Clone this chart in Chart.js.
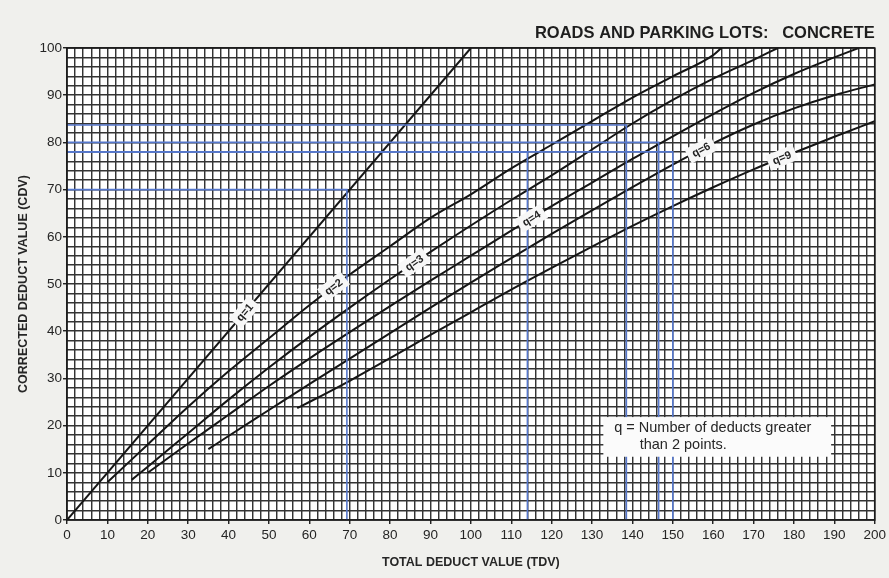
<!DOCTYPE html>
<html>
<head>
<meta charset="utf-8">
<script src="https://cdn.jsdelivr.net/npm/chart.js@4.4.1/dist/chart.umd.min.js"></script>
<style>
  html, body { margin: 0; background: #f0f0ed; }
  canvas { display: block; }
</style>
</head>
<body>
<canvas id="cdv-chart" width="889" height="578"></canvas>
<script>
// ---- data (TDV on x, CDV on y) ----
const q1Tdv = [0, 100];
const q1Cdv = [0, 100];
const q2Tdv = [10, 20, 30, 40, 50, 60, 70, 80, 90, 100, 110, 120, 130, 140, 150, 160, 162];
const q2Cdv = [8, 16, 24, 31.5, 38.5, 45.5, 52, 58, 64, 69, 74.5, 79.5, 84.5, 89.5, 94, 98.5, 100];
const q3Tdv = [16, 20, 30, 40, 50, 60, 70, 80, 90, 100, 110, 120, 130, 140, 150, 160, 170, 176];
const q3Cdv = [8.5, 11.3, 18.4, 25.5, 32.3, 38.8, 45, 51, 56.8, 62.4, 67.8, 73, 78.5, 84, 89, 93.5, 97.5, 100];
const q4Tdv = [20, 30, 40, 50, 60, 70, 80, 90, 100, 110, 120, 130, 140, 150, 160, 170, 180, 190, 196];
const q4Cdv = [10, 16.2, 22.3, 28.4, 34.2, 39.8, 45.3, 50.7, 56, 61.3, 66.5, 71.5, 76.5, 81.3, 86, 90.5, 94.5, 98, 100];
const q6Tdv = [35, 40, 50, 60, 70, 80, 90, 100, 110, 120, 130, 140, 150, 160, 170, 180, 190, 200];
const q6Cdv = [15, 17.8, 23.3, 28.8, 34.2, 39.6, 45, 50.3, 55.5, 60.6, 65.6, 70.5, 75.3, 79.8, 83.8, 87.2, 90, 92.3];
const q9Tdv = [57, 60, 70, 80, 90, 100, 110, 120, 130, 140, 150, 160, 170, 180, 190, 200];
const q9Cdv = [23.7, 25, 29.5, 34.3, 39.2, 44, 48.8, 53.4, 57.9, 62.3, 66.5, 70.5, 74.3, 77.8, 81.2, 84.5];

const curveNames = ['q=1', 'q=2', 'q=3', 'q=4', 'q=6', 'q=9'];
const labelTdv = [44, 66, 86, 115, 157, 177];   // where each q label sits on its curve

// blue worked-example lines: TDV up to the curve, across to CDV
const guideTdv = [69.3, 114, 138.5, 146.5, 150];
const guideCdv = [70, 78, 83.7, 80, 78];

const xLabels = [0, 10, 20, 30, 40, 50, 60, 70, 80, 90, 100, 110, 120, 130, 140, 150, 160, 170, 180, 190, 200];
const yLabels = [0, 10, 20, 30, 40, 50, 60, 70, 80, 90, 100];

const curves = [
  [q1Tdv, q1Cdv], [q2Tdv, q2Cdv], [q3Tdv, q3Cdv],
  [q4Tdv, q4Cdv], [q6Tdv, q6Cdv], [q9Tdv, q9Cdv],
];

const FONT = '"Liberation Sans", Arial, sans-serif';
const toPts = (xs, ys) => xs.map((v, i) => ({ x: v, y: ys[i] }));

const datasets = [];
guideTdv.forEach((t, i) => {
  datasets.push({
    data: [{ x: 0, y: guideCdv[i] }, { x: t, y: guideCdv[i] }, { x: t, y: 0 }],
    borderColor: '#5577cc', borderWidth: 1.6, pointRadius: 0, tension: 0,
  });
});
curves.forEach(([xs, ys], i) => {
  datasets.push({
    label: curveNames[i],
    data: toPts(xs, ys),
    borderColor: '#161616', borderWidth: 2, pointRadius: 0,
    cubicInterpolationMode: 'monotone',
  });
});

// white plot area + heading + note box
const paperPlugin = {
  id: 'paper',
  beforeDraw(chart) {
    const { ctx, chartArea: a } = chart;
    ctx.save();
    ctx.fillStyle = '#ffffff';
    ctx.fillRect(a.left, a.top, a.right - a.left, a.bottom - a.top);
    ctx.restore();
  },
  afterDraw(chart) {
    const { ctx, chartArea: a, scales: { x, y } } = chart;
    ctx.save();
    ctx.strokeStyle = '#1a1a1a';
    ctx.lineWidth = 1.6;
    ctx.strokeRect(a.left, a.top, a.right - a.left, a.bottom - a.top);

    ctx.fillStyle = '#1e1e1e';
    ctx.font = 'bold 16.5px ' + FONT;
    ctx.textAlign = 'right';
    ctx.textBaseline = 'alphabetic';
    ctx.fillText('ROADS AND PARKING LOTS:   CONCRETE', a.right, 38);

    // note box
    const bx = x.getPixelForValue(132.8), by = y.getPixelForValue(21.8);
    const bw = x.getPixelForValue(189.2) - bx, bh = y.getPixelForValue(13.4) - by;
    ctx.fillStyle = '#fbfbfb';
    ctx.fillRect(bx, by, bw, bh);
    ctx.fillStyle = '#262626';
    ctx.font = '14.5px ' + FONT;
    ctx.textAlign = 'left';
    ctx.textBaseline = 'middle';
    ctx.fillText('q = Number of deducts greater', x.getPixelForValue(135.5), y.getPixelForValue(19.4));
    ctx.fillText('than 2 points.', x.getPixelForValue(141.8), y.getPixelForValue(15.8));
    ctx.restore();
  },
};

// rotated q labels sitting on each curve
const curveLabelPlugin = {
  id: 'curveLabels',
  afterDatasetsDraw(chart) {
    const { ctx, scales: { x, y } } = chart;
    ctx.save();
    ctx.font = 'bold 11px ' + FONT;
    ctx.textAlign = 'center';
    ctx.textBaseline = 'middle';
    curves.forEach(([xs, ys], i) => {
      const t = labelTdv[i];
      let k = 1;
      while (k < xs.length - 1 && xs[k] < t) k++;
      const x0 = x.getPixelForValue(xs[k - 1]), y0 = y.getPixelForValue(ys[k - 1]);
      const x1 = x.getPixelForValue(xs[k]), y1 = y.getPixelForValue(ys[k]);
      const f = (t - xs[k - 1]) / (xs[k] - xs[k - 1]);
      const px = x0 + (x1 - x0) * f, py = y0 + (y1 - y0) * f;
      const ang = Math.atan2(y1 - y0, x1 - x0);
      ctx.save();
      ctx.translate(px, py);
      ctx.rotate(ang);
      const w = ctx.measureText(curveNames[i]).width + 10;
      ctx.fillStyle = '#f7f7f7';
      ctx.fillRect(-w / 2, -8, w, 16);
      ctx.fillStyle = '#222';
      ctx.fillText(curveNames[i], 0, 0.5);
      ctx.restore();
    });
    ctx.restore();
  },
};

const tickMark = (c) => (c.tick && c.tick.value % 10 === 0) ? '#222' : 'rgba(0,0,0,0)';

new Chart(document.getElementById('cdv-chart'), {
  type: 'line',
  data: { datasets },
  options: {
    responsive: false,
    animation: false,
    layout: { padding: { top: 48, right: 12, left: 0, bottom: 0 } },
    plugins: { legend: { display: false }, tooltip: { enabled: false } },
    scales: {
      x: {
        type: 'linear', min: 0, max: 200,
        afterFit: (s) => { s.height = 58; },
        afterBuildTicks: (s) => { s.ticks = Array.from({ length: 101 }, (_, i) => ({ value: i * 2 })); },
        ticks: {
          autoSkip: false, maxRotation: 0, padding: 3,
          color: '#252525', font: { family: FONT, size: 13.5 },
          callback: (v) => (xLabels.includes(v) ? v : ''),
        },
        grid: { color: '#343434', lineWidth: 1.45, tickLength: 4, tickColor: tickMark },
        border: { display: false },
        title: {
          display: true, text: 'TOTAL DEDUCT VALUE (TDV)',
          color: '#262626', font: { family: FONT, size: 12.5, weight: 'bold' }, padding: { top: 2, bottom: 8 },
        },
      },
      y: {
        type: 'linear', min: 0, max: 100,
        afterFit: (s) => { s.width = 67; },
        afterBuildTicks: (s) => { s.ticks = Array.from({ length: 51 }, (_, i) => ({ value: i * 2 })); },
        ticks: {
          autoSkip: false, padding: 1,
          color: '#252525', font: { family: FONT, size: 13.5 },
          callback: (v) => (yLabels.includes(v) ? v : ''),
        },
        grid: { color: '#343434', lineWidth: 1.45, tickLength: 4, tickColor: tickMark },
        border: { display: false },
        title: {
          display: true, text: 'CORRECTED DEDUCT VALUE (CDV)',
          color: '#262626', font: { family: FONT, size: 12.5, weight: 'bold' }, padding: { top: 16, bottom: 0 },
        },
      },
    },
  },
  plugins: [paperPlugin, curveLabelPlugin],
});
</script>
</body>
</html>
